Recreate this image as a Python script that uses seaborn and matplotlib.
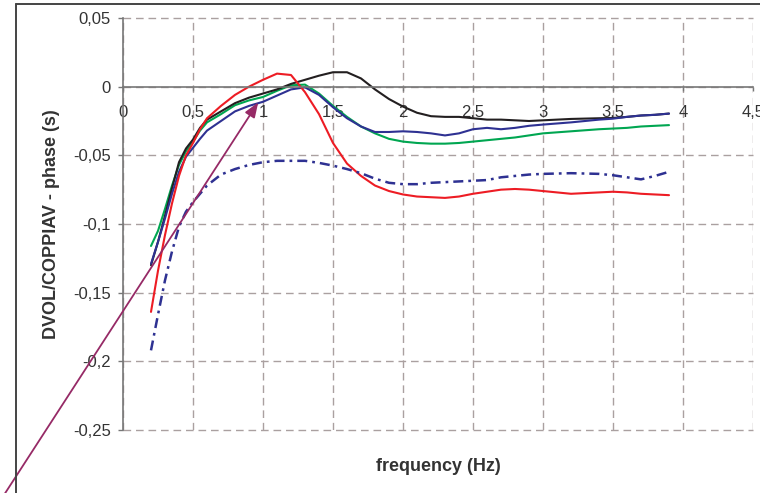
import matplotlib
matplotlib.use("Agg")
import matplotlib.pyplot as plt
from matplotlib.lines import Line2D
import seaborn as sns
import pandas as pd

# frequency grid shared by all curves (Hz)
freq = [0.2, 0.25, 0.3, 0.35, 0.4, 0.45, 0.5, 0.55, 0.6, 0.7, 0.8, 0.9, 1.0,
        1.1, 1.2, 1.3, 1.4, 1.5, 1.6, 1.7, 1.8, 1.9, 2.0, 2.1, 2.2, 2.3, 2.4,
        2.5, 2.6, 2.7, 2.8, 2.9, 3.0, 3.2, 3.4, 3.5, 3.6, 3.7, 3.8, 3.9]

# phase (s)
phase_black = [-0.130, -0.113, -0.094, -0.074, -0.055, -0.045, -0.0385, -0.030,
               -0.024, -0.018, -0.012, -0.008, -0.005, -0.002, 0.002, 0.005,
               0.008, 0.0105, 0.0105, 0.006, -0.002, -0.009, -0.0145, -0.019,
               -0.0215, -0.022, -0.022, -0.023, -0.024, -0.024, -0.0245, -0.025,
               -0.0245, -0.0235, -0.023, -0.0228, -0.022, -0.021, -0.0205, -0.0196]

phase_red = [-0.164, -0.134, -0.108, -0.085, -0.065, -0.050, -0.041, -0.031,
             -0.023, -0.014, -0.006, 0.0, 0.005, 0.0095, 0.0085, -0.004,
             -0.020, -0.041, -0.056, -0.065, -0.072, -0.076, -0.0785, -0.080,
             -0.0805, -0.081, -0.080, -0.078, -0.0765, -0.075, -0.0745, -0.075,
             -0.076, -0.078, -0.077, -0.0765, -0.077, -0.078, -0.0785, -0.079]

phase_green = [-0.116, -0.105, -0.089, -0.072, -0.057, -0.047, -0.040, -0.032,
               -0.026, -0.020, -0.0135, -0.010, -0.0075, -0.003, 0.001, 0.0015,
               -0.005, -0.014, -0.022, -0.029, -0.034, -0.038, -0.040, -0.041,
               -0.0415, -0.0415, -0.041, -0.040, -0.039, -0.038, -0.037, -0.0355,
               -0.034, -0.0325, -0.031, -0.0305, -0.030, -0.029, -0.0285, -0.028]

phase_blue = [-0.129, -0.113, -0.096, -0.078, -0.062, -0.051, -0.0445, -0.038,
              -0.032, -0.025, -0.018, -0.014, -0.011, -0.0065, -0.002, -0.0005,
              -0.006, -0.015, -0.023, -0.029, -0.033, -0.033, -0.0325, -0.033,
              -0.034, -0.0355, -0.034, -0.031, -0.030, -0.031, -0.030, -0.0285,
              -0.0276, -0.026, -0.024, -0.0233, -0.022, -0.021, -0.0205, -0.0196]

phase_dashdot = [-0.192, -0.166, -0.141, -0.120, -0.102, -0.091, -0.084, -0.078,
                 -0.072, -0.064, -0.060, -0.057, -0.055, -0.054, -0.054, -0.054,
                 -0.0555, -0.0575, -0.060, -0.063, -0.067, -0.070, -0.071, -0.071,
                 -0.070, -0.0695, -0.069, -0.0685, -0.068, -0.066, -0.065, -0.064,
                 -0.0635, -0.063, -0.0635, -0.0645, -0.066, -0.0675, -0.065, -0.062]

x_ticks = [0, 0.5, 1, 1.5, 2, 2.5, 3, 3.5, 4, 4.5]
x_tick_labels = ["0", "0,5", "1", "1,5", "2", "2,5", "3", "3,5", "4", "4,5"]
y_ticks = [0.05, 0, -0.05, -0.1, -0.15, -0.2, -0.25]
y_tick_labels = ["0,05", "0", "-0,05", "-0,1", "-0,15", "-0,2", "-0,25"]

x_label = "frequency (Hz)"
y_label = "DVOL/COPPIAV - phase (s)"

# arrow from outside the plot area up to the curves
arrow_tail = (-0.88, -0.302)
arrow_head = (0.966, -0.0114)

sns.set_style("white")
plt.rcParams["font.family"] = ["Liberation Sans", "DejaVu Sans"]

df = pd.DataFrame({"freq": freq, "black": phase_black, "red": phase_red,
                   "green": phase_green, "blue": phase_blue,
                   "dashdot": phase_dashdot})

fig = plt.figure(figsize=(7.6, 4.93), dpi=100)
ax = fig.add_axes([123 / 760, 1 - 430 / 493, 630 / 760, 412 / 493])

grid_color = "#aaa0a0"
ax.set_xlim(0, 4.5)
ax.set_ylim(-0.25, 0.05)
ax.set_xticks(x_ticks)
ax.set_xticklabels(x_tick_labels)
ax.set_yticks(y_ticks)
ax.set_yticklabels(y_tick_labels)
ax.grid(True, color=grid_color, linestyle=(0, (5.5, 3.5)), linewidth=1.0)
ax.set_axisbelow(True)
for gl in ax.get_xgridlines() + ax.get_ygridlines():
    gl.set_clip_on(False)

for s in ("top", "right"):
    ax.spines[s].set_visible(False)
ax.spines["bottom"].set_position(("data", 0))
ax.spines["bottom"].set_color("#777777")
ax.spines["left"].set_color("#777777")
ax.spines["bottom"].set_linewidth(1.2)
ax.spines["left"].set_linewidth(1.2)

ax.tick_params(axis="y", direction="out", length=3.6, width=1.0, color="#777777",
               pad=5, labelsize=12, labelcolor="#333333", left=True)
ax.tick_params(axis="x", direction="out", length=3.0, width=1.0, color="#777777",
               pad=10, labelsize=12, labelcolor="#333333", bottom=True)

lw = 1.5
sns.lineplot(data=df, x="freq", y="green", ax=ax, color="#00a651", lw=lw)
sns.lineplot(data=df, x="freq", y="black", ax=ax, color="#231f20", lw=lw)
sns.lineplot(data=df, x="freq", y="blue", ax=ax, color="#2e3192", lw=lw)
sns.lineplot(data=df, x="freq", y="red", ax=ax, color="#ed1c24", lw=lw)
sns.lineplot(data=df, x="freq", y="dashdot", ax=ax, color="#2e3192", lw=1.8,
             linestyle=(0, (4, 2, 1.1, 2)))

ax.set_xlabel(x_label, fontsize=13, fontweight="bold", color="#333333")
ax.set_ylabel(y_label, fontsize=13, fontweight="bold", color="#333333")
ax.xaxis.set_label_coords(0.5, (430 - 466.5) / 412)
ax.xaxis.label.set_va("center")
ax.yaxis.set_label_coords((52 - 123) / 630, 0.5)
ax.yaxis.label.set_va("center")

ax.annotate("", xy=arrow_head, xytext=arrow_tail, xycoords="data",
            textcoords="data", annotation_clip=False,
            arrowprops=dict(arrowstyle="-|>,head_length=0.45,head_width=0.17",
                            mutation_scale=20, color="#962a66", lw=1.3,
                            shrinkA=0, shrinkB=0))

# outer frame around the chart area
frame_kw = dict(color="#444444", lw=1.4, transform=fig.transFigure)
fig.add_artist(Line2D([16 / 760, 16 / 760], [0, 1 - 4 / 493], **frame_kw))
fig.add_artist(Line2D([16 / 760, 1], [1 - 4 / 493, 1 - 4 / 493], **frame_kw))

fig.savefig("out.png", dpi=100)
